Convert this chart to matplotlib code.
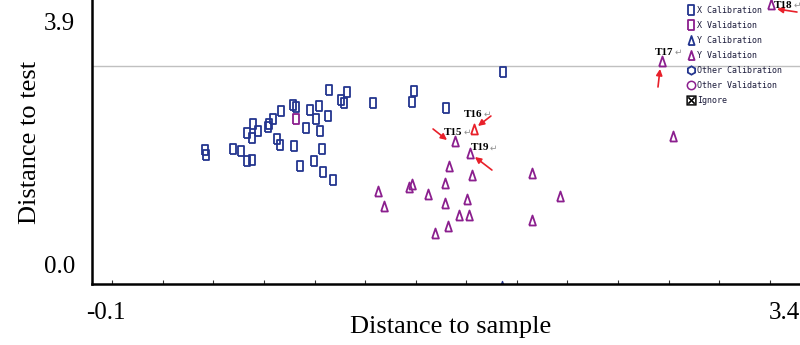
import matplotlib
matplotlib.use("Agg")
import matplotlib.pyplot as plt
from matplotlib.lines import Line2D
from matplotlib.ticker import MultipleLocator
from matplotlib.transforms import ScaledTranslation

# ---------------- data ----------------
xcal_x = [0.459, 0.464, 0.597, 0.637, 0.666, 0.691, 0.696, 0.666, 0.721, 0.691,
          0.775, 0.770, 0.795, 0.834, 0.814, 0.829, 0.894, 0.908, 0.978, 1.022,
          1.072, 1.161, 1.131, 1.146, 1.067, 1.007, 1.289, 0.958, 1.027, 0.899,
          1.037, 0.997, 0.928, 1.042, 1.091, 1.932, 1.492, 1.482, 1.650]
xcal_y = [1.845, 1.765, 1.862, 1.829, 1.669, 1.685, 2.263, 2.118, 2.150, 2.038,
          2.263, 2.215, 2.343, 2.471, 2.022, 1.926, 2.568, 2.536, 2.488, 2.552,
          2.809, 2.776, 2.648, 2.600, 2.391, 2.343, 2.600, 2.199, 2.150, 1.910,
          1.862, 1.669, 1.589, 1.492, 1.364, 3.097, 2.792, 2.616, 2.520]

xval_x = [0.908]
xval_y = [2.343]

yval_x = [1.694, 1.769, 1.665, 1.778, 2.075, 1.314, 1.467, 1.482, 1.561, 1.645,
          1.343, 1.645, 1.754, 2.213, 1.714, 1.764, 2.075, 1.660, 1.596, 2.718,
          2.772, 3.256]
yval_y = [1.990, 1.797, 1.589, 1.444, 1.476, 1.187, 1.252, 1.300, 1.139, 1.316,
          0.947, 0.995, 1.059, 1.107, 0.802, 0.802, 0.722, 0.626, 0.513, 3.274,
          2.070, 4.189]

# highlighted sample (T16)
hl_x = [1.788]
hl_y = [2.183]

ycal_x = [1.927]
ycal_y = [-0.33]

threshold = 3.194

# sample labels and arrows
lab_names = ["T16", "T15", "T19", "T17", "T18"]
lab_x = [1.739, 1.640, 1.773, 2.683, 3.271]
lab_y = [2.423, 2.134, 1.878, 3.418, 4.17]
arr_tail_x = [1.872, 1.586, 1.877, 2.698, 3.385]
arr_tail_y = [2.391, 2.183, 1.524, 2.857, 4.060]
arr_head_x = [1.808, 1.655, 1.793, 2.708, 3.286]
arr_head_y = [2.231, 2.006, 1.733, 3.146, 4.109]

x_ticks = [-0.1, 3.4]
y_ticks = [0.0, 3.9]
x_lim = (-0.1, 3.4)
y_lim = (-0.305, 4.253)

legend_labels = ["X Calibration", "X Validation", "Y Calibration", "Y Validation",
                 "Other Calibration", "Other Validation", "Ignore"]

# ---------------- style ----------------
BLUE = "#23358f"
PURPLE = "#8b1f8e"
RED = "#e8202a"
SERIF = ["Liberation Serif", "DejaVu Serif"]

rect_marker = [(-0.33, -0.5), (0.33, -0.5), (0.33, 0.5), (-0.33, 0.5), (-0.33, -0.5)]
tri_marker = [(-0.34, -0.5), (0.34, -0.5), (0.0, 0.5), (-0.34, -0.5)]

fig = plt.figure(figsize=(8.0, 3.45), dpi=100)
ax = fig.add_axes([92 / 800, 1 - 284 / 345, 708 / 800, 284 / 345])

ax.set_xlim(*x_lim)
ax.set_ylim(*y_lim)

ax.axhline(threshold, color="#c0c0c0", lw=1.0, zorder=1)

ms = 7.2
ax.plot(xcal_x, xcal_y, linestyle="none", marker=rect_marker, markersize=ms,
        markerfacecolor="none", markeredgecolor=BLUE, markeredgewidth=1.3, zorder=3)
ax.plot(xval_x, xval_y, linestyle="none", marker=rect_marker, markersize=ms,
        markerfacecolor="none", markeredgecolor=PURPLE, markeredgewidth=1.3, zorder=3)
ax.plot(yval_x, yval_y, linestyle="none", marker=tri_marker, markersize=ms,
        markerfacecolor="none", markeredgecolor=PURPLE, markeredgewidth=1.3, zorder=3)
ax.plot(hl_x, hl_y, linestyle="none", marker=tri_marker, markersize=ms,
        markerfacecolor="none", markeredgecolor=RED, markeredgewidth=1.3, zorder=3)
ax.plot(ycal_x, ycal_y, linestyle="none", marker=tri_marker, markersize=ms,
        markerfacecolor="none", markeredgecolor=BLUE, markeredgewidth=1.0, zorder=2)

# annotations
for name, lx, ly, tx, ty, hx, hy in zip(lab_names, lab_x, lab_y, arr_tail_x,
                                          arr_tail_y, arr_head_x, arr_head_y):
    ax.annotate("", xy=(hx, hy), xytext=(tx, ty),
                arrowprops=dict(arrowstyle="-|>", color=RED, lw=1.2,
                                mutation_scale=9, shrinkA=0, shrinkB=0),
                annotation_clip=False, zorder=4)
    t = ax.text(lx, ly, name, family=SERIF, fontsize=8, fontweight="bold",
                color="black", ha="left", va="center", zorder=5, clip_on=False)
    ax.annotate("\u21b5", xy=(1, 0.5), xycoords=t, xytext=(0.5, 0),
                textcoords="offset points", fontsize=6.5, color="#909090",
                family=["DejaVu Sans"], ha="left", va="center", zorder=5)

# spines
for s in ["top", "right"]:
    ax.spines[s].set_visible(False)
ax.spines["left"].set_linewidth(1.8)
ax.spines["bottom"].set_linewidth(1.8)

ax.set_xticks(x_ticks)
ax.set_xticklabels(["-0.1", "3.4"])
ax.set_yticks(y_ticks)
ax.set_yticklabels(["0.0", "3.9"])
ax.tick_params(axis="both", which="major", length=0, labelsize=18)
ax.tick_params(axis="x", which="major", pad=13)
ax.tick_params(axis="y", which="major", pad=12)
ax.xaxis.set_minor_locator(MultipleLocator(0.25))
ax.tick_params(axis="x", which="minor", length=3, width=0.8, direction="in",
               color="#333333")
for lbl in ax.get_xticklabels() + ax.get_yticklabels():
    lbl.set_family(SERIF)
xl = ax.get_xticklabels()
xl[0].set_ha("left")
xl[0].set_transform(xl[0].get_transform() + ScaledTranslation(-6 / 100, 0, fig.dpi_scale_trans))
xl[1].set_ha("right")

ax.set_xlabel("Distance to sample", family=SERIF, fontsize=19, va="center")
ax.xaxis.set_label_coords(0.506, -0.151)
ax.set_ylabel("Distance to test", family=SERIF, fontsize=19, va="center")
ax.yaxis.set_label_coords(-0.087, 0.5)

# legend
handles = [
    Line2D([], [], linestyle="none", marker=rect_marker, markersize=6.5,
           markerfacecolor="none", markeredgecolor=BLUE, markeredgewidth=1.3),
    Line2D([], [], linestyle="none", marker=rect_marker, markersize=6.5,
           markerfacecolor="none", markeredgecolor=PURPLE, markeredgewidth=1.3),
    Line2D([], [], linestyle="none", marker=tri_marker, markersize=6.5,
           markerfacecolor="none", markeredgecolor=BLUE, markeredgewidth=1.3),
    Line2D([], [], linestyle="none", marker=tri_marker, markersize=6.5,
           markerfacecolor="none", markeredgecolor=PURPLE, markeredgewidth=1.3),
    Line2D([], [], linestyle="none", marker="h", markersize=6,
           markerfacecolor="none", markeredgecolor=BLUE, markeredgewidth=1.3),
    Line2D([], [], linestyle="none", marker="o", markersize=6,
           markerfacecolor="none", markeredgecolor=PURPLE, markeredgewidth=1.1),
    Line2D([], [], linestyle="none", marker=r"$\boxtimes$", markersize=7,
           markerfacecolor="black", markeredgecolor="black", markeredgewidth=0.3),
]
leg = fig.legend(handles, legend_labels, loc="upper left",
                 bbox_to_anchor=(688 / 800, 1 - 6 / 345), frameon=False,
                 prop={"family": "DejaVu Sans Mono", "size": 6},
                 labelspacing=0.72, handlelength=0.7, handletextpad=0.35,
                 borderpad=0, borderaxespad=0)
for t in leg.get_texts():
    t.set_color("#1c1c3c")

fig.savefig("out.png", dpi=100)
